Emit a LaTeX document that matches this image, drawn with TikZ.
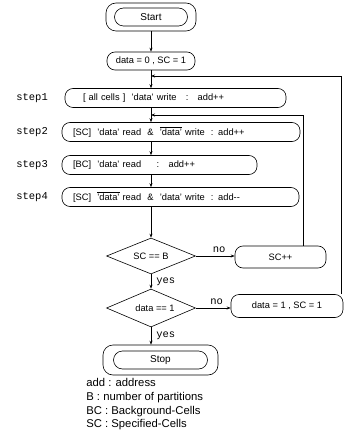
\documentclass[tikz,border=0pt]{standalone}
\usepackage{fontspec}
\setmainfont{Liberation Sans}
\setmonofont{Liberation Mono}
\usetikzlibrary{shapes.geometric,arrows.meta}
\newcommand\barred[1]{$\overline{\hbox{#1}}$}
\begin{document}
\begin{tikzpicture}[x=1pt,y=1pt,
  line width=0.6pt,
  >={Stealth[length=4pt,width=3pt]},
  txt/.style={font=\fontsize{9.3}{10}\selectfont},
  box/.style={draw, txt, rounded corners=8pt, inner sep=0pt},
  stepbox/.style={draw, txt, rounded corners=8pt, minimum height=19pt, inner ysep=0pt, align=left},
  dec/.style={draw, txt, diamond, aspect=2.4, inner sep=0pt},
  lbl/.style={font=\ttfamily\fontsize{10.5}{12}\selectfont, anchor=west, inner sep=0pt},
  yn/.style={font=\ttfamily\fontsize{10.5}{12}\selectfont, inner sep=0pt}
]
\useasboundingbox (0,0) rectangle (354,-446);

% start
\node[box, minimum width=90pt, minimum height=28pt, rounded corners=10pt] (startout) at (151,-17) {};
\node[box, minimum width=73pt, minimum height=18pt, rounded corners=9pt, font=\fontsize{10}{11}\selectfont] (start) at (151,-17) {Start};

\node[box, minimum width=88pt, minimum height=18pt] (init) at (151,-61) {data = 0 , SC = 1};

% steps
\node[stepbox, minimum width=221pt, text width=185pt, inner xsep=18pt] (s1) at (175.5,-98)
  {[ all cells ]\ \ 'data' write\quad :\quad add++};
\node[stepbox, minimum width=238pt, text width=216pt, inner xsep=11pt] (s2) at (181,-132)
  {[SC]\ \ 'data' read\ \ \&\ \ \barred{'data'} write\ \ : add++};
\node[stepbox, minimum width=195pt, text width=173pt, inner xsep=11pt] (s3) at (159.5,-165)
  {[BC]\ \ 'data' read\quad\ \ :\ \ \ add++};
\node[stepbox, minimum width=237pt, text width=215pt, inner xsep=11pt] (s4) at (180.5,-197)
  {[SC]\ \ \barred{'data'} read\ \ \&\ \ 'data' write\ \ : add-{}-};

\node[lbl] (l1) at (16,-98) {step1};
\node[lbl] (l2) at (16,-132) {step2};
\node[lbl] (l3) at (16,-165) {step3};
\node[lbl] (l4) at (16,-197) {step4};

% decisions
\node[dec, minimum width=89pt, minimum height=36pt] (d1) at (151,-256) {SC == B};
\node[dec, minimum width=89pt, minimum height=38pt] (d2) at (151,-308) {\hspace{8pt}data == 1};

\node[box, minimum width=91pt, minimum height=22pt] (scpp) at (280.5,-257) {SC++\hspace{12pt}};
\node[box, minimum width=112pt, minimum height=23pt] (reset) at (287,-306) {data = 1 , SC = 1};

% stop
\node[box, minimum width=115pt, minimum height=30pt, rounded corners=10pt] (stopout) at (160.5,-360) {};
\node[box, minimum width=94pt, minimum height=18pt, rounded corners=9pt, font=\fontsize{10}{11}\selectfont] (stop) at (160.5,-360) {Stop};

% legend
\node[anchor=north west, align=left, inner sep=0pt, font=\fontsize{11.3}{13.8}\selectfont] (legend) at (86,-378)
  {add : address\\B : number of partitions\\BC : Background-Cells\\SC : Specified-Cells};

% connectors
\coordinate (j1) at (151,-76);
\coordinate (o1) at (341,-76);
\coordinate (j2) at (151,-115);
\coordinate (o2) at (303,-115);

\draw[->] (startout.south) -- (init.north);
\draw[->] (init.south) -- (j1 |- s1.north);
\draw[->] (reset.north -| o1) -- (o1) -- (j1);
\draw[->] (j1 |- s1.south) -- (j1 |- s2.north);
\draw[->] (scpp.north -| o2) -- (o2) -- (j2);
\draw[->] (j1 |- s2.south) -- (j1 |- s3.north);
\draw[->] (j1 |- s3.south) -- (j1 |- s4.north);
\draw[->] (j1 |- s4.south) -- (d1.north);
\draw[->] (d1.east) -- (scpp.west |- d1.east) node[yn, pos=0.6, above=3pt] {no};
\draw[->] (d1.south) -- (d2.north) node[yn, midway, right=5pt] {yes};
\draw[->] (d2.east) -- (reset.west |- d2.east) node[yn, pos=0.6, above=3pt] {no};
\draw[->] (d2.south) -- (d2.south |- stopout.north) node[yn, midway, right=5pt] {yes};
\end{tikzpicture}
\end{document}
